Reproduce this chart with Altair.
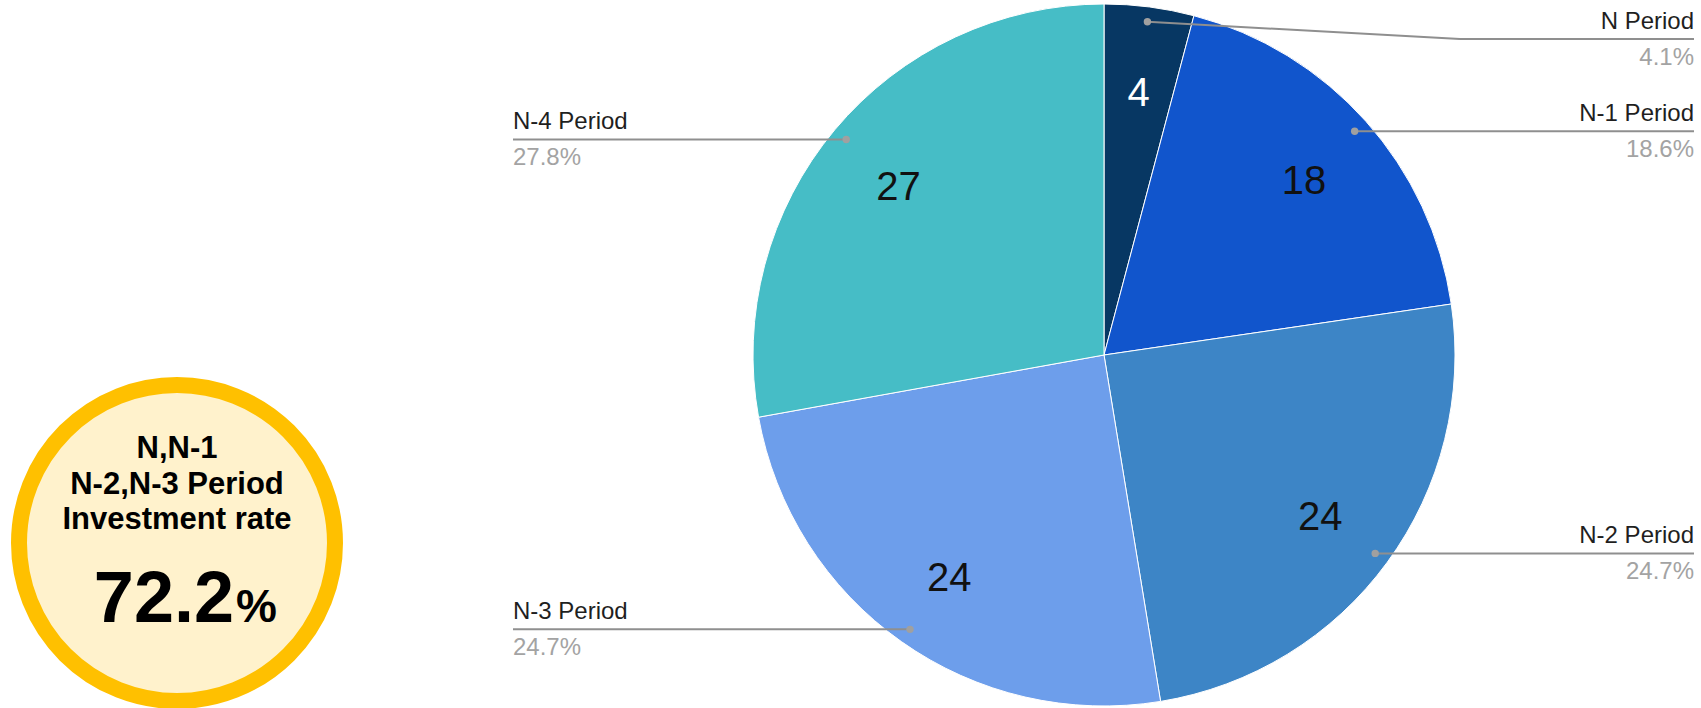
import altair as alt
import pandas as pd

# ---- data ----
categories = ["N Period", "N-1 Period", "N-2 Period", "N-3 Period", "N-4 Period"]
values = [4, 18, 24, 24, 27]
colors = ["#073763", "#1155cc", "#3d85c6", "#6d9eeb", "#46bdc6"]
badge_lines = ["N,N-1", "N-2,N-3 Period", "Investment rate"]
badge_value = "72.2"
badge_unit = "%"

# ---- layout constants ----
W, H = 1701, 708
CX, CY, R = 1104, 355, 351
DOT_R = 336
NUM_R = 268
TOP_MIN = 39          # highest y a label line may sit at
BEND_X = 1460         # where a pushed-down leader line turns horizontal
RIGHT_X = 1694
LEFT_X = 513
FONT = "Liberation Sans"

df = pd.DataFrame({"category": categories, "value": values,
                   "order": list(range(len(categories)))})

base = alt.Chart(df)

pie = base.mark_arc(outerRadius=R, stroke="white", strokeWidth=1).encode(
    theta=alt.Theta("value:Q", stack=True),
    order=alt.Order("order:Q"),
    color=alt.Color("category:N", scale=alt.Scale(domain=categories, range=colors), legend=None),
    x=alt.value(CX), y=alt.value(CY),
)

nums = base.mark_text(radius=NUM_R, fontSize=40, font=FONT, baseline="middle", align="center", dy=5).encode(
    theta=alt.Theta("value:Q", stack=True),
    order=alt.Order("order:Q"),
    text=alt.Text("value:Q"),
    color=alt.condition(alt.datum.category == categories[0], alt.value("white"), alt.value("#111111")),
    x=alt.value(CX), y=alt.value(CY),
)

geo = base.transform_window(
    cum="sum(value)", sort=[alt.SortField("order")], frame=[None, 0]
).transform_joinaggregate(total="sum(value)").transform_calculate(
    mid="(datum.cum - datum.value/2)/datum.total*2*PI",
    dx=f"{CX} + {DOT_R}*sin(datum.mid)",
    dy=f"{CY} - {DOT_R}*cos(datum.mid)",
    right="datum.mid < PI ? 1 : 0",
    lineY=f"max(datum.dy, {TOP_MIN})",
    bendX=f"datum.lineY > datum.dy ? {BEND_X} : datum.dx",
    endX=f"datum.mid < PI ? {RIGHT_X} : {LEFT_X}",
    titleY="datum.lineY - 10",
    pctY="datum.lineY + 26",
    pct="format(datum.value/datum.total, '.1%')",
)

LINE_COL = "#8f8f8f"
seg1 = geo.mark_rule(color=LINE_COL, strokeWidth=2).encode(
    x=alt.X("dx:Q", scale=None, axis=None), y=alt.Y("dy:Q", scale=None, axis=None),
    x2="bendX:Q", y2="lineY:Q",
)
seg2 = geo.mark_rule(color=LINE_COL, strokeWidth=2).encode(
    x=alt.X("bendX:Q", scale=None, axis=None), y=alt.Y("lineY:Q", scale=None, axis=None),
    x2="endX:Q",
)
dots = geo.mark_circle(size=55, color="#a0a0a0", opacity=1).encode(
    x=alt.X("dx:Q", scale=None, axis=None), y=alt.Y("dy:Q", scale=None, axis=None),
)

def side_labels(filter_expr, align):
    g = geo.transform_filter(filter_expr)
    t = g.mark_text(fontSize=24, font=FONT, align=align, baseline="alphabetic", color="#1f1f1f").encode(
        x=alt.X("endX:Q", scale=None, axis=None), y=alt.Y("titleY:Q", scale=None, axis=None),
        text="category:N",
    )
    p = g.mark_text(fontSize=24, font=FONT, align=align, baseline="alphabetic", color="#a3a3a3").encode(
        x=alt.X("endX:Q", scale=None, axis=None), y=alt.Y("pctY:Q", scale=None, axis=None),
        text="pct:N",
    )
    return t + p

right_lbl = side_labels("datum.right == 1", "right")
left_lbl = side_labels("datum.right == 0", "left")

# ---- badge ----
BX, BY = 177, 543
badge_df = pd.DataFrame({"value": [badge_value], "unit": [badge_unit]})
badge = alt.Chart(badge_df)
# vega circle symbol radius = sqrt(size)/2 ; mid-stroke radius 158
ring = badge.mark_point(shape="circle", size=316 * 316, filled=False, fill="#fff2cc", fillOpacity=1,
                        stroke="#ffc000", strokeWidth=16, opacity=1).encode(
    x=alt.value(BX), y=alt.value(BY))

lines_df = pd.DataFrame({"line": badge_lines, "i": list(range(len(badge_lines)))})
btxt = alt.Chart(lines_df).transform_calculate(ty="458 + datum.i*35.5").mark_text(
    fontSize=31, fontWeight="bold", font=FONT, align="center", baseline="alphabetic", color="black"
).encode(x=alt.value(BX), y=alt.Y("ty:Q", scale=None, axis=None), text="line:N")

big = badge.mark_text(fontSize=72, fontWeight="bold", font=FONT, align="right", baseline="alphabetic",
                      color="black").encode(x=alt.value(234), y=alt.value(622), text="value:N")
unit = badge.mark_text(fontSize=46, fontWeight="bold", font=FONT, align="left", baseline="alphabetic",
                       color="black").encode(x=alt.value(236), y=alt.value(622), text="unit:N")

chart = alt.layer(pie, seg1, seg2, dots, nums, right_lbl, left_lbl, ring, btxt, big, unit).properties(
    width=W, height=H, padding=0, autosize="none"
).configure_view(stroke=None)

chart.save("out.html", embed_options={"renderer": "svg", "actions": False})
